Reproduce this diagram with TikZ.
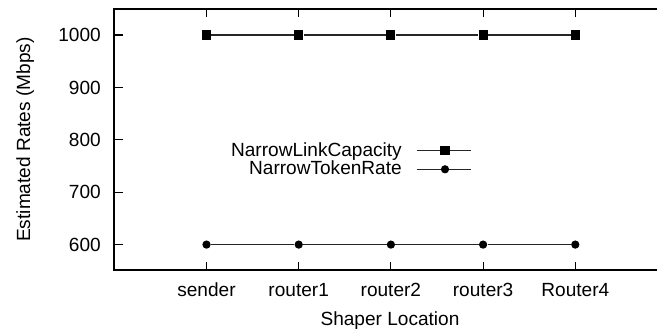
\documentclass[tikz,border=0pt]{standalone}
\usepackage{fontspec}
\setmainfont{Liberation Sans}
\begin{document}
\begin{tikzpicture}[x=0.75pt,y=-0.75pt,
  frame/.style={line width=1.1pt},
  tickmark/.style={line width=0.8pt},
  series/.style={line width=0.9pt, draw=black!85},
  sqmark/.style={rectangle, fill=black, minimum size=6.8pt, inner sep=0pt},
  dotmark/.style={circle, fill=black, minimum size=6.2pt, inner sep=0pt},
  lbl/.style={font=\fontsize{14.3}{16}\selectfont, inner sep=0pt},
]
\useasboundingbox (0,0) rectangle (657,331);
\fill[white] (0,0) rectangle (657,331);

% axes frame (open on the right)
\draw[frame] (660,9) -- (114,9) -- (114,270) -- (660,270);

% y ticks and labels
\foreach \v/\yy in {1000/35, 900/87.4, 800/139.8, 700/192.2, 600/244.6} {
  \draw[tickmark] (114,\yy) -- ++(9,0);
  \node[lbl, anchor=base east] (ylab\v) at (101,\yy+6.8) {\v};
}

% x ticks and labels
\foreach \name [count=\i from 0] in {sender,router1,router2,router3,Router4} {
  \pgfmathsetmacro{\xx}{206.5+92.2*\i}
  \draw[tickmark] (\xx,270) -- ++(0,-8);
  \draw[tickmark] (\xx,9) -- ++(0,8);
  \node[lbl, anchor=base] (xlab\i) at (\xx,296.7) {\name};
}

% axis titles
\node[lbl, anchor=base] (xtitle) at (390,326) {Shaper Location};
\node[lbl, anchor=base, rotate=90] (ytitle) at (30,139.5) {Estimated Rates (Mbps)};

% data points
\foreach \i in {0,...,4} {
  \pgfmathsetmacro{\xx}{206.5+92.2*\i}
  \node[sqmark] (c\i) at (\xx,35) {};
  \node[dotmark] (t\i) at (\xx,244.6) {};
}
\draw[series] (c0) -- (c1) -- (c2) -- (c3) -- (c4);
\draw[series] (t0) -- (t1) -- (t2) -- (t3) -- (t4);

% legend
\node[lbl, anchor=base east] (legA) at (402,156.7) {NarrowLinkCapacity};
\node[lbl, anchor=base east] (legB) at (402,175) {NarrowTokenRate};
\coordinate (la0) at (416.7,150.2);
\coordinate (la1) at (470.7,150.2);
\coordinate (lb0) at (416.7,169.3);
\coordinate (lb1) at (470.7,169.3);
\draw[series] (la0) -- (la1);
\draw[series] (lb0) -- (lb1);
\node[sqmark] (legsq) at (445,150.2) {};
\node[dotmark] (legdot) at (445,169.3) {};
\end{tikzpicture}
\end{document}
